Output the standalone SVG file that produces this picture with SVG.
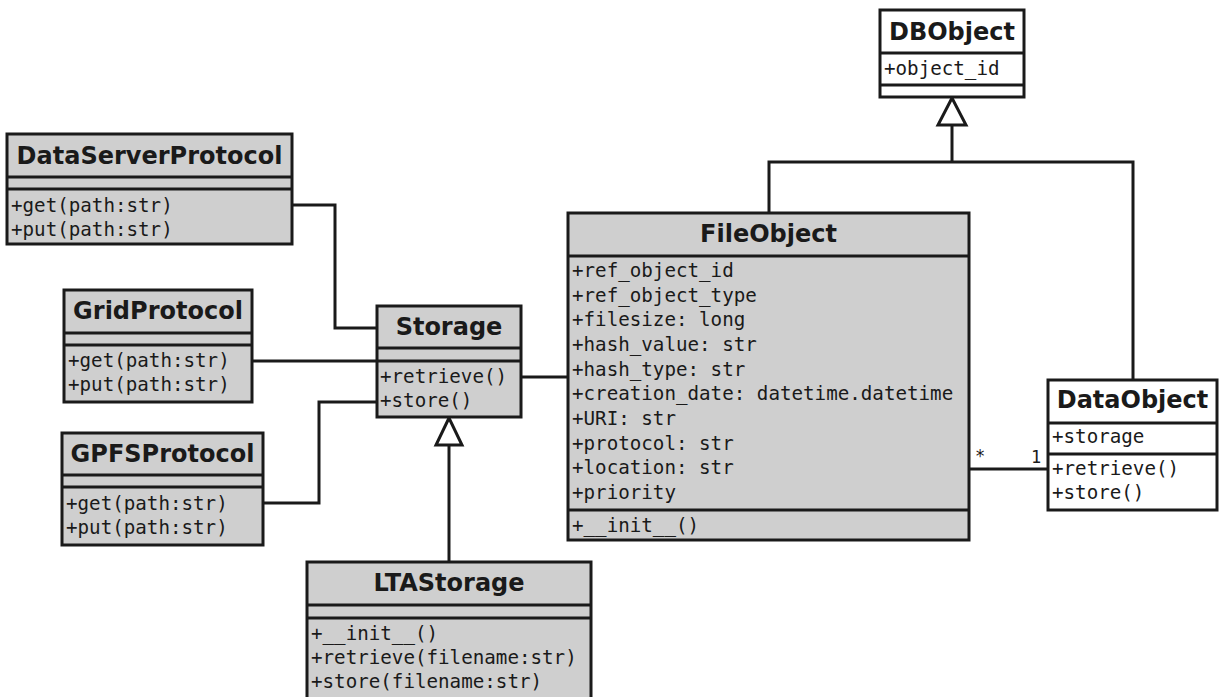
<svg xmlns="http://www.w3.org/2000/svg" width="1219" height="697" viewBox="0 0 1219 697">
<style>
.box{stroke:#1a1a1a;stroke-width:3}
.g{fill:#cfcfcf}
.w{fill:#ffffff}
.div{stroke:#1a1a1a;stroke-width:3}
.t{font-family:"DejaVu Sans",sans-serif;font-weight:bold;font-size:24px;fill:#1a1a1a;text-anchor:middle}
.m{font-family:"DejaVu Sans Mono",monospace;font-size:19.2px;fill:#1a1a1a}
.ln{fill:none;stroke:#1a1a1a;stroke-width:3}
.tri{fill:#ffffff;stroke:#1a1a1a;stroke-width:3;stroke-linejoin:miter}
.lbl{font-family:"DejaVu Sans Mono",monospace;font-size:17px;fill:#1a1a1a}
</style>
<rect width="1219" height="697" fill="#ffffff"/>
<g id="connectors">
  <polyline class="ln" points="769,213 769,162 1133,162 1133,380"/>
  <line class="ln" x1="952" y1="162" x2="952" y2="125"/>
  <polygon class="tri" points="952,98 938,125 966,125"/>
  <line class="ln" x1="969" y1="469" x2="1048" y2="469"/>
  <text class="lbl" x="975" y="462">*</text>
  <text class="lbl" x="1031" y="463">1</text>
  <line class="ln" x1="521" y1="377" x2="568" y2="377"/>
  <polyline class="ln" points="292,205 335,205 335,328 377,328"/>
  <line class="ln" x1="252" y1="361" x2="377" y2="361"/>
  <polyline class="ln" points="263,503 319,503 319,402 377,402"/>
  <line class="ln" x1="449" y1="445" x2="449" y2="562"/>
  <polygon class="tri" points="449,418 436,445 462,445"/>
</g>
<g id="DBObject">
  <rect class="box w" x="880" y="10" width="144" height="87"/>
  <line class="div" x1="880" y1="53" x2="1024" y2="53"/>
  <line class="div" x1="880" y1="85" x2="1024" y2="85"/>
  <text class="t" x="952" y="40">DBObject</text>
  <text class="m" x="884" y="75">+object_id</text>
</g>
<g id="DataServerProtocol">
  <rect class="box g" x="7" y="134" width="285" height="110"/>
  <line class="div" x1="7" y1="177" x2="292" y2="177"/>
  <line class="div" x1="7" y1="189" x2="292" y2="189"/>
  <text class="t" x="149.5" y="164">DataServerProtocol</text>
  <text class="m" x="11" y="212">+get(path:str)</text>
  <text class="m" x="11" y="236">+put(path:str)</text>
</g>
<g id="GridProtocol">
  <rect class="box g" x="64" y="290" width="188" height="112"/>
  <line class="div" x1="64" y1="333" x2="252" y2="333"/>
  <line class="div" x1="64" y1="345" x2="252" y2="345"/>
  <text class="t" x="158" y="319">GridProtocol</text>
  <text class="m" x="68" y="367">+get(path:str)</text>
  <text class="m" x="68" y="391">+put(path:str)</text>
</g>
<g id="GPFSProtocol">
  <rect class="box g" x="62" y="433" width="201" height="112"/>
  <line class="div" x1="62" y1="475" x2="263" y2="475"/>
  <line class="div" x1="62" y1="487" x2="263" y2="487"/>
  <text class="t" x="162.5" y="462">GPFSProtocol</text>
  <text class="m" x="66" y="510">+get(path:str)</text>
  <text class="m" x="66" y="534">+put(path:str)</text>
</g>
<g id="Storage">
  <rect class="box g" x="377" y="306" width="144" height="111"/>
  <line class="div" x1="377" y1="348" x2="521" y2="348"/>
  <line class="div" x1="377" y1="361" x2="521" y2="361"/>
  <text class="t" x="449" y="335">Storage</text>
  <text class="m" x="380" y="383">+retrieve()</text>
  <text class="m" x="380" y="407">+store()</text>
</g>
<g id="LTAStorage">
  <rect class="box g" x="307" y="562" width="284" height="140"/>
  <line class="div" x1="307" y1="605" x2="591" y2="605"/>
  <line class="div" x1="307" y1="618" x2="591" y2="618"/>
  <text class="t" x="449" y="591">LTAStorage</text>
  <text class="m" x="311" y="640">+__init__()</text>
  <text class="m" x="311" y="664">+retrieve(filename:str)</text>
  <text class="m" x="311" y="688">+store(filename:str)</text>
</g>
<g id="FileObject">
  <rect class="box g" x="568" y="213" width="401" height="327"/>
  <line class="div" x1="568" y1="256" x2="969" y2="256"/>
  <line class="div" x1="568" y1="510" x2="969" y2="510"/>
  <text class="t" x="768.5" y="242">FileObject</text>
  <text class="m" x="572" y="277">+ref_object_id</text>
  <text class="m" x="572" y="302">+ref_object_type</text>
  <text class="m" x="572" y="326">+filesize: long</text>
  <text class="m" x="572" y="351">+hash_value: str</text>
  <text class="m" x="572" y="376">+hash_type: str</text>
  <text class="m" x="572" y="400">+creation_date: datetime.datetime</text>
  <text class="m" x="572" y="425">+URI: str</text>
  <text class="m" x="572" y="450">+protocol: str</text>
  <text class="m" x="572" y="474">+location: str</text>
  <text class="m" x="572" y="499">+priority</text>
  <text class="m" x="572" y="532">+__init__()</text>
</g>
<g id="DataObject">
  <rect class="box w" x="1048" y="380" width="169" height="130"/>
  <line class="div" x1="1048" y1="423" x2="1217" y2="423"/>
  <line class="div" x1="1048" y1="454" x2="1217" y2="454"/>
  <text class="t" x="1132.5" y="408">DataObject</text>
  <text class="m" x="1052" y="443">+storage</text>
  <text class="m" x="1052" y="475">+retrieve()</text>
  <text class="m" x="1052" y="499">+store()</text>
</g>
</svg>
